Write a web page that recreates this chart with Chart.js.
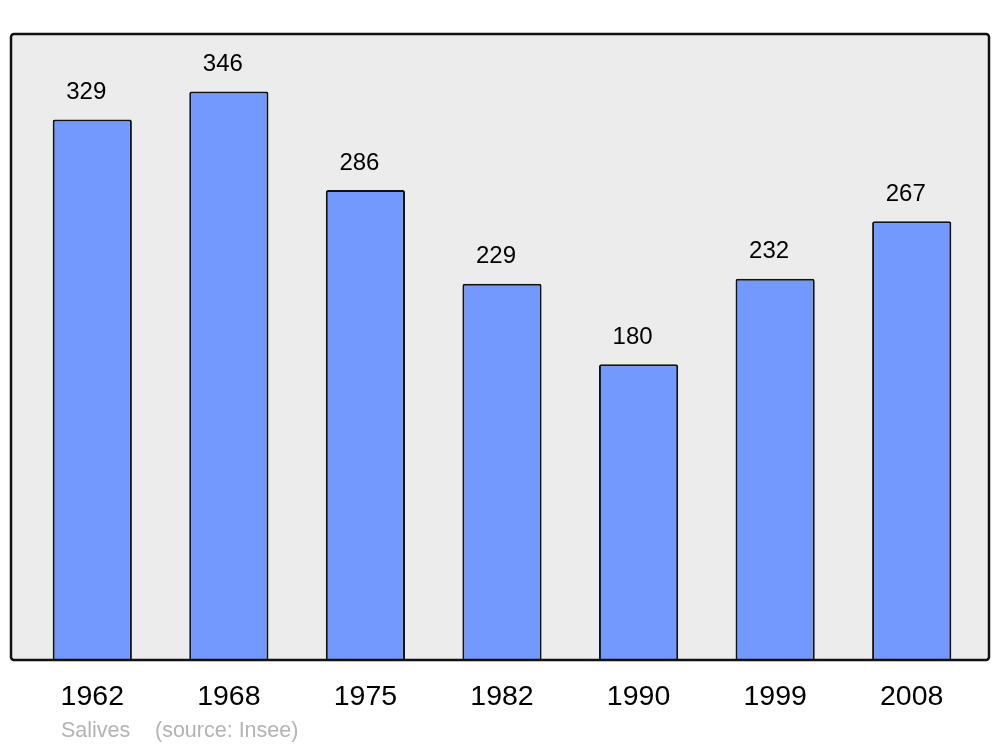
<!DOCTYPE html>
<html>
<head>
<meta charset="utf-8">
<script src="https://cdn.jsdelivr.net/npm/chart.js@4/dist/chart.umd.min.js"></script>
<style>
  html, body { margin: 0; padding: 0; background: #fff; }
  #wrap { width: 1000px; height: 747px; position: relative; }
</style>
</head>
<body>
<div id="wrap"><canvas id="popChart" width="1000" height="747"></canvas></div>
<script>
var years = ['1962', '1968', '1975', '1982', '1990', '1999', '2008'];
var population = [329, 346, 286, 229, 180, 232, 267];
var commune = 'Salives';
var source = '(source: Insee)';

// grey frame behind the bars
var framePlugin = {
    id: 'frame',
    beforeDraw: function (chart) {
        var ctx = chart.ctx;
        var a = chart.chartArea;
        ctx.save();
        ctx.beginPath();
        ctx.roundRect(11, a.top, 978, a.bottom - a.top, 3);
        ctx.fillStyle = '#ececec';
        ctx.fill();
        ctx.restore();
    },
    afterDatasetsDraw: function (chart) {
        var ctx = chart.ctx;
        var a = chart.chartArea;
        ctx.save();
        ctx.beginPath();
        ctx.roundRect(11, a.top, 978, a.bottom - a.top, 3);
        ctx.lineWidth = 2.5;
        ctx.strokeStyle = '#111';
        ctx.stroke();
        ctx.restore();
    }
};

// value above each bar + footer text
var labelPlugin = {
    id: 'valueLabels',
    afterDraw: function (chart) {
        var ctx = chart.ctx;
        var meta = chart.getDatasetMeta(0);
        ctx.save();
        ctx.font = '24px "Liberation Sans", Arial, sans-serif';
        ctx.fillStyle = '#000';
        ctx.textAlign = 'center';
        ctx.textBaseline = 'middle';
        meta.data.forEach(function (bar, i) {
            ctx.fillText(population[i], bar.x - 6, bar.y - 27);
        });
        ctx.font = '21.5px "Liberation Sans", Arial, sans-serif';
        ctx.fillStyle = '#b3b3b3';
        ctx.textAlign = 'left';
        ctx.fillText(commune, 61, 731);
        ctx.fillText(source, 155, 731);
        ctx.restore();
    }
};

new Chart(document.getElementById('popChart').getContext('2d'), {
    type: 'bar',
    data: {
        labels: years,
        datasets: [{
            data: population,
            backgroundColor: '#7399ff',
            borderColor: '#111',
            borderWidth: 2,
            borderSkipped: 'bottom',
            borderRadius: 2,
            barPercentage: 0.58,
            categoryPercentage: 1
        }]
    },
    options: {
        responsive: false,
        animation: false,
        layout: { padding: { left: 24, right: 20, top: 34, bottom: 0 } },
        plugins: {
            legend: { display: false },
            tooltip: { enabled: false }
        },
        scales: {
            y: {
                display: false,
                min: 0,
                max: 381
            },
            x: {
                grid: { display: false, drawTicks: false },
                border: { display: false },
                ticks: {
                    color: '#000',
                    padding: 20,
                    font: { family: '"Liberation Sans", Arial, sans-serif', size: 28.5 }
                },
                afterFit: function (scale) { scale.height = 87; }
            }
        }
    },
    plugins: [framePlugin, labelPlugin]
});
</script>
</body>
</html>
